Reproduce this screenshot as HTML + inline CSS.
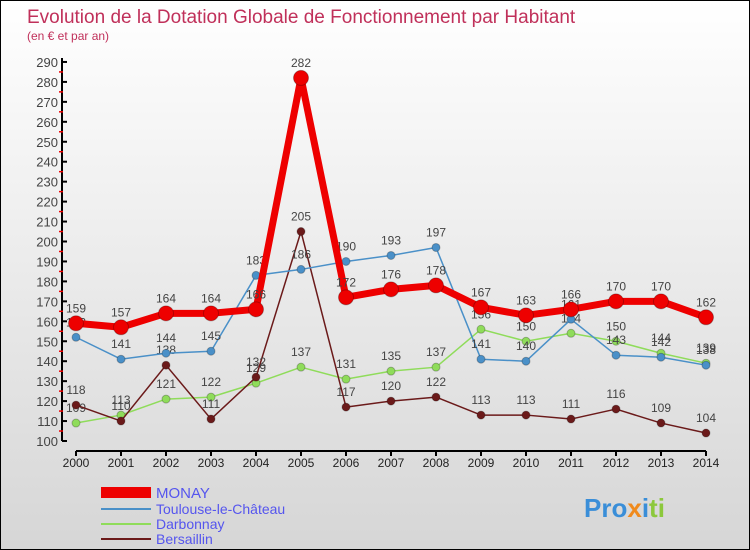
<!DOCTYPE html>
<html><head><meta charset="utf-8"><style>
body{margin:0}
#c{width:748px;height:548px;border:1px solid #000;background:linear-gradient(#fff,#d6d6d6);position:relative;font-family:"Liberation Sans",sans-serif;overflow:hidden}
</style></head><body>
<div id="c">
<svg id="s" width="748" height="548" xmlns="http://www.w3.org/2000/svg">
<text x="26" y="22" font-size="19" fill="#c0305a">Evolution de la Dotation Globale de Fonctionnement par Habitant</text>
<text x="26" y="39" font-size="12" fill="#c0305a">(en € et par an)</text>
<g id="g"></g>
<g>
<rect x="100" y="486" width="50" height="11" fill="#e00"/>
<text x="155" y="497" font-size="15" fill="#55e">MONAY</text>
<line x1="100" y1="508" x2="150" y2="508" stroke="#4a90c8" stroke-width="2"/>
<text x="155" y="513" font-size="14" fill="#55e">Toulouse-le-Château</text>
<line x1="100" y1="523" x2="150" y2="523" stroke="#8fdc5a" stroke-width="2"/>
<text x="155" y="528" font-size="14" fill="#55e">Darbonnay</text>
<line x1="100" y1="538" x2="150" y2="538" stroke="#6b1a1a" stroke-width="2"/>
<text x="155" y="543" font-size="14" fill="#55e">Bersaillin</text>
</g>
<text x="583" y="516" font-size="26" font-weight="bold"><tspan fill="#3a8ed8">Pro</tspan><tspan fill="#f08a1c">x</tspan><tspan fill="#3a8ed8">i</tspan><tspan fill="#8cc83c">ti</tspan></text>
</svg>
</div>
<script>
const years=[2000,2001,2002,2003,2004,2005,2006,2007,2008,2009,2010,2011,2012,2013,2014];
const monay=[159,157,164,164,166,282,172,176,178,167,163,166,170,170,162];
const toulouse=[152,141,144,145,183,186,190,193,197,141,140,161,143,142,138];
const darbonnay=[109,113,121,122,129,137,131,135,137,156,150,154,150,144,139];
const bersaillin=[118,110,138,111,132,205,117,120,122,113,113,111,116,109,104];
const yTicks=[100,110,120,130,140,150,160,170,180,190,200,210,220,230,240,250,260,270,280,290];
const NS="http://www.w3.org/2000/svg";
const g=document.getElementById('g');
const X=i=>75+i*45, Y=v=>440-(v-100)*1.995;
function el(t,a){const e=document.createElementNS(NS,t);for(const k in a)e.setAttribute(k,a[k]);g.appendChild(e);return e;}
let e=el('line',{x1:61,y1:57,x2:61,y2:440,stroke:'#000','stroke-width':2});


e=el('line',{x1:75,y1:450,x2:705,y2:450,stroke:'#000','stroke-width':2});


yTicks.forEach(v=>{
 e=el('line',{x1:61,y1:Y(v),x2:66,y2:Y(v),stroke:'#000','stroke-width':2});
 
 
 if(v<290){e=el('line',{x1:58,y1:Y(v+5),x2:62,y2:Y(v+5),stroke:'#e00','stroke-width':1.5});
 
 }
 e=el('text',{x:57,y:Y(v)+5,'font-size':13,fill:'#444','text-anchor':'end'});e.textContent=v;
 
 
});
years.forEach((yr,i)=>{
 e=el('line',{x1:X(i),y1:450,x2:X(i),y2:455,stroke:'#000','stroke-width':2});
 
 
 e=el('text',{x:X(i),y:466,'font-size':12,fill:'#222','text-anchor':'middle'});e.textContent=yr;
 
 
});
function series(d,col,w,r,name){
 e=el('polyline',{points:d.map((v,i)=>X(i)+','+Y(v)).join(' '),fill:'none',stroke:col,'stroke-width':w,'stroke-linejoin':'round'});
 
 
 d.forEach((v,i)=>{
  e=el('circle',{cx:X(i),cy:Y(v),r:r,fill:col,stroke:'rgba(0,0,0,0.25)'});
  
  
  e=el('text',{x:X(i),y:Y(v)-11,'font-size':12,fill:'#444','text-anchor':'middle'});e.textContent=v;
  
  
 });
}
series(darbonnay,'#8fdc5a',1.5,4,'darbonnay');
series(bersaillin,'#6b1a1a',1.5,4,'bersaillin');
series(toulouse,'#4a90c8',1.5,4,'toulouse');
series(monay,'#ee0000',7,7.5,'monay');
</script>
</body></html>
